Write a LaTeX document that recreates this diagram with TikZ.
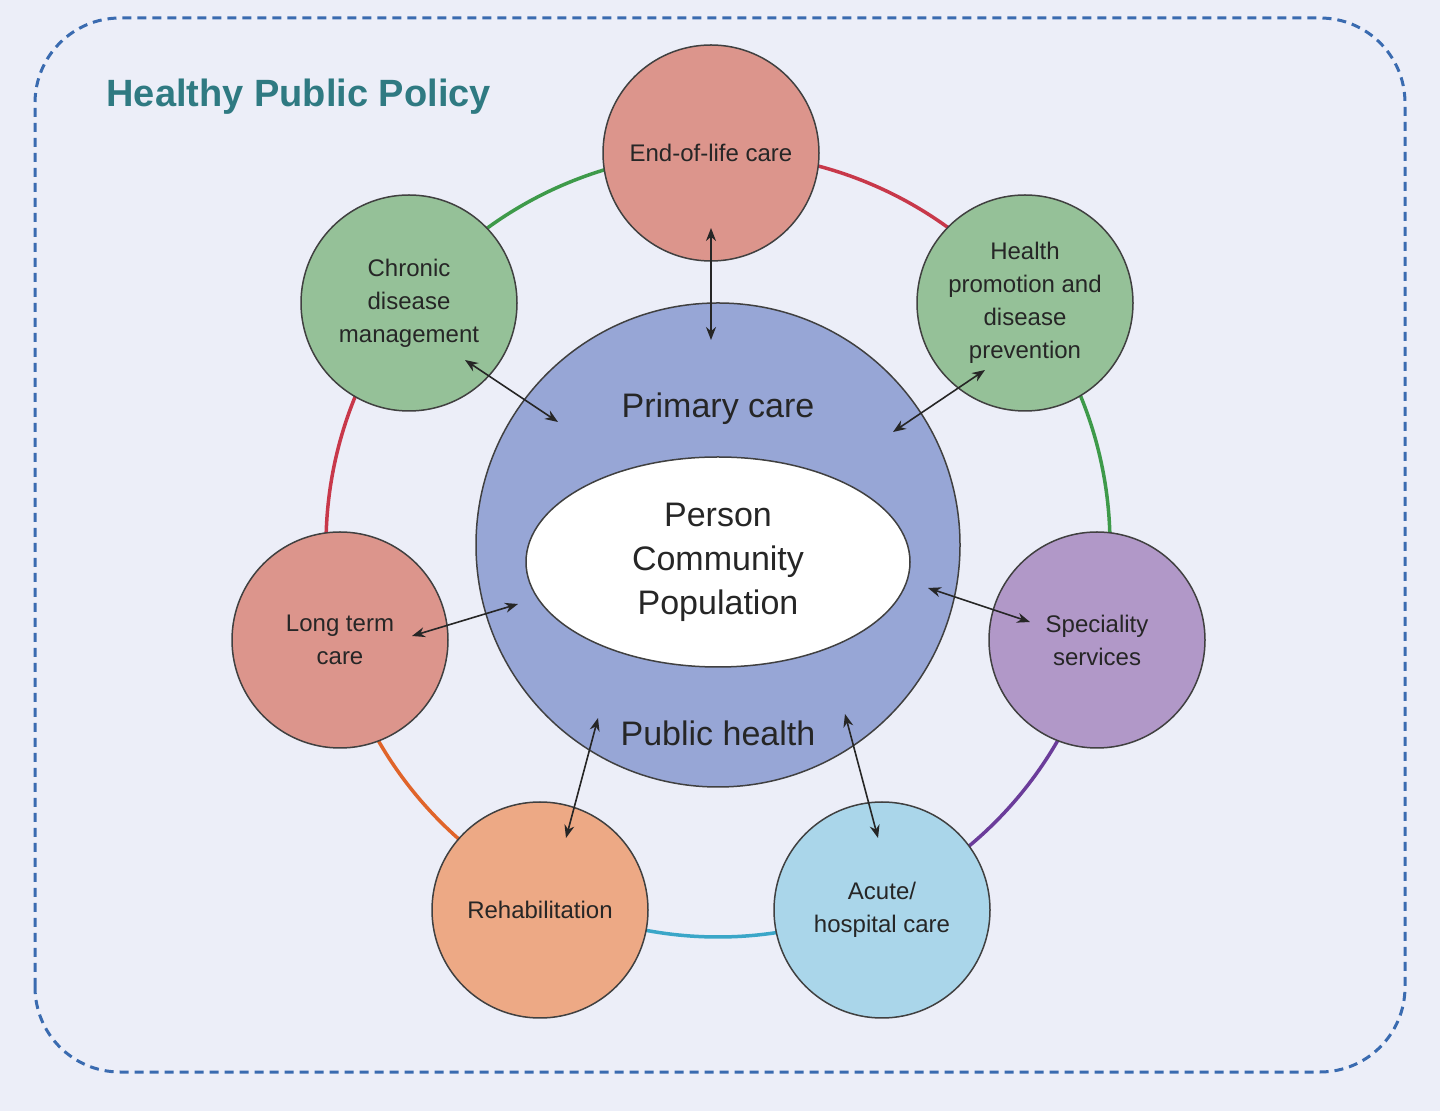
\documentclass[tikz,border=0pt]{standalone}
\usepackage{fontspec}
\setmainfont{Liberation Sans}
\usetikzlibrary{arrows.meta,shapes.geometric}
\definecolor{bg}{HTML}{ECEEF8}
\definecolor{dashblue}{HTML}{3A6BB0}
\definecolor{salmon}{HTML}{DC958C}
\definecolor{sgreen}{HTML}{95C198}
\definecolor{spurple}{HTML}{B198C8}
\definecolor{sblue}{HTML}{AAD6EA}
\definecolor{sorange}{HTML}{EDA985}
\definecolor{core}{HTML}{97A6D6}
\definecolor{teal}{HTML}{2F7A82}
\definecolor{rred}{HTML}{C8384A}
\definecolor{rgreen}{HTML}{3E9A4A}
\definecolor{rpurple}{HTML}{6B3C9A}
\definecolor{rblue}{HTML}{3AA6C8}
\definecolor{rorange}{HTML}{E0642A}
\begin{document}
\begin{tikzpicture}[x=1pt,y=1pt,
  sat/.style={circle,draw=black!75,line width=1.5pt,minimum size=216pt,inner sep=0pt,align=center,font=\fontsize{24}{33}\selectfont,text=black!85},
  ring/.style={line width=3.5pt},
  dbl/.style={{Stealth[length=13pt,width=10pt]}-{Stealth[length=13pt,width=10pt]},line width=1.6pt,black!85}]
\useasboundingbox (0,0) rectangle (1440,1111);
\fill[bg] (0,0) rectangle (1440,1111);
\draw[dashblue,line width=3pt,dash pattern=on 9pt off 6pt,rounded corners=85pt] (35,39) rectangle (1405,1093);
\node[anchor=west,text=teal,font=\bfseries\fontsize{38}{40}\selectfont] (title) at (103,1014) {Healthy Public Policy};
\coordinate (C) at (718,566);
\def\R{392}
\foreach \a/\b/\c in {91/38/rred,38/-14/rgreen,-14/-66/rpurple,-66/-116/rblue,-116/-166/rorange,194/142/rred,142/91/rgreen}{
  \draw[ring,\c] ([shift={(\a:\R)}]C) arc[start angle=\a,end angle=\b,radius=\R];}
\node[circle,draw=black!75,line width=1.5pt,fill=core,minimum size=484pt] (core) at (C) {};
\node[ellipse,draw=black!75,line width=1.5pt,fill=white,minimum width=384pt,minimum height=210pt,align=center,font=\fontsize{34}{44}\selectfont,text=black!85] (pcp) at (718,549) {Person\\Community\\Population};
\node[font=\fontsize{34}{40}\selectfont,text=black!85] (pc) at (718,702) {Primary care};
\node[font=\fontsize{34}{40}\selectfont,text=black!85] (ph) at (718,378) {Public health};
\node[sat,fill=salmon] (eol) at (711,958) {End-of-life care};
\node[sat,fill=sgreen] (hp) at (1025,808) {Health\\promotion and\\disease\\prevention};
\node[sat,fill=spurple] (ss) at (1097,471) {Speciality\\services};
\node[sat,fill=sblue] (ac) at (882,201) {Acute/\\hospital care};
\node[sat,fill=sorange] (rh) at (540,201) {Rehabilitation};
\node[sat,fill=salmon] (lt) at (340,471) {Long term\\care};
\node[sat,fill=sgreen] (cd) at (409,808) {Chronic\\disease\\management};
\coordinate (e1) at (711,883); \coordinate (e2) at (711,771);
\coordinate (c1) at (465,751); \coordinate (c2) at (558,689);
\coordinate (h1) at (985,741); \coordinate (h2) at (893,679);
\coordinate (l1) at (412,475); \coordinate (l2) at (518,507);
\coordinate (s1) at (928,523); \coordinate (s2) at (1030,489);
\coordinate (r1) at (598,393); \coordinate (r2) at (566,273);
\coordinate (a1) at (845,397); \coordinate (a2) at (878,273);
\foreach \p/\q in {e1/e2,c1/c2,h1/h2,l1/l2,s1/s2,r1/r2,a1/a2}{\draw[dbl] (\p) -- (\q);}
\end{tikzpicture}
\end{document}
